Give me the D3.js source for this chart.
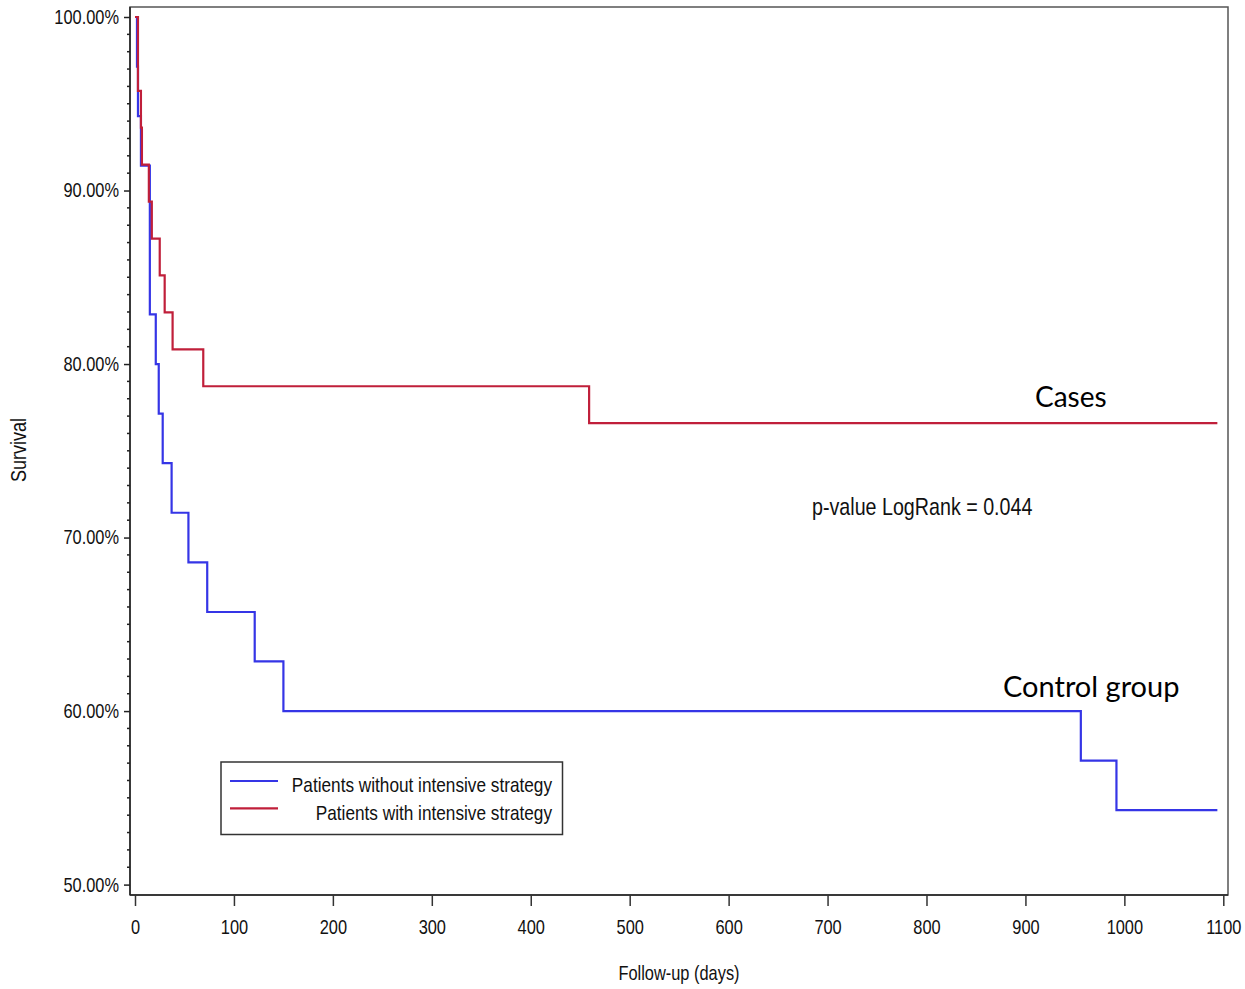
<!DOCTYPE html>
<html>
<head>
<meta charset="utf-8">
<script src="https://cdn.jsdelivr.net/npm/d3@7"></script>
<style>
  html, body { margin: 0; padding: 0; background: #fff; }
  svg { display: block; }
  .narrow { font-family: "Liberation Sans Narrow", "Arial Narrow", "Liberation Sans", Arial, sans-serif; }
</style>
</head>
<body>
<svg id="chart" width="1245" height="989"></svg>
<script>
// ---- data ----
const blueDays   = [0, 2, 3, 6, 15, 21, 24, 28, 37, 54, 73, 121, 150, 956, 992, 1094];
const blueSurv   = [100, 97.14, 94.29, 91.43, 82.86, 80.00, 77.14, 74.29, 71.43, 68.57, 65.71, 62.86, 60.00, 57.14, 54.29, 54.29];
const redDays    = [0, 3, 6, 7, 14, 17, 25, 30, 38, 69, 459, 1094];
const redSurv    = [100, 95.74, 93.62, 91.49, 89.36, 87.23, 85.11, 82.98, 80.85, 78.72, 76.60, 76.60];
const xTicks     = [0, 100, 200, 300, 400, 500, 600, 700, 800, 900, 1000, 1100];
const yTicks     = [50, 60, 70, 80, 90, 100];
const seriesNames = ["Patients without intensive strategy", "Patients with intensive strategy"];
const seriesColors = ["#3535e6", "#c01f3a"];
const groupLabels = ["Control group", "Cases"];
const pText = "p-value LogRank = 0.044";

const svg = d3.select("#chart");
const frame = {left: 130, right: 1228, top: 7, bottom: 895};
const x = d3.scaleLinear().domain([0, 1100]).range([135, 1223.3]);
const y = d3.scaleLinear().domain([50, 100]).range([884.6, 17]);
const SQUEEZE = 0.82; // emulate Arial Narrow with a horizontal scale

// frame
svg.append("rect")
  .attr("x", frame.left).attr("y", frame.top)
  .attr("width", frame.right - frame.left).attr("height", frame.bottom - frame.top)
  .attr("fill", "none").attr("stroke", "#555").attr("stroke-width", 1.5);

// y axis
const yAxis = d3.axisLeft(y).tickValues(yTicks).tickSize(6).tickPadding(5)
  .tickFormat(d => d3.format(".2f")(d) + "%");
const gy = svg.append("g").attr("transform", `translate(${frame.left},0)`).call(yAxis);
gy.select(".domain").attr("d", `M0,${frame.top}V${frame.bottom}`).attr("stroke", "#222").attr("stroke-width", 1.5);
gy.selectAll(".tick line").attr("stroke", "#222").attr("stroke-width", 1.5);
gy.selectAll(".tick text").attr("class", "narrow").attr("font-size", 20).attr("fill", "#111");
// minor y ticks
const minor = d3.range(50, 100.01, 1).filter(v => v % 10 !== 0);
svg.append("g").selectAll("line").data(minor).join("line")
  .attr("x1", frame.left - 3).attr("x2", frame.left)
  .attr("y1", d => y(d)).attr("y2", d => y(d))
  .attr("stroke", "#222").attr("stroke-width", 1.5);

// x axis
const xAxis = d3.axisBottom(x).tickValues(xTicks).tickSize(11).tickPadding(14).tickFormat(d3.format("d"));
const gx = svg.append("g").attr("transform", `translate(0,${frame.bottom})`).call(xAxis);
gx.select(".domain").attr("d", `M${frame.left},0H${frame.right}`).attr("stroke", "#222").attr("stroke-width", 1.5);
gx.selectAll(".tick line").attr("stroke", "#333").attr("stroke-width", 1.5);
gx.selectAll(".tick text").attr("class", "narrow").attr("font-size", 20).attr("fill", "#111");

// axis titles
svg.append("text").attr("class", "narrow")
  .attr("x", 679).attr("y", 980).attr("text-anchor", "middle")
  .attr("font-size", 20).attr("fill", "#111").text("Follow-up (days)");
svg.append("text").attr("class", "narrow rot")
  .attr("transform", "translate(26,450) rotate(-90)")
  .attr("text-anchor", "middle")
  .attr("font-size", 22).attr("fill", "#111").text("Survival");

// survival step lines
const line = d3.line().x(d => x(d[0])).y(d => y(d[1])).curve(d3.curveStepAfter);
const series = [
  d3.zip(blueDays, blueSurv),
  d3.zip(redDays, redSurv)
];
svg.append("g").selectAll("path").data(series).join("path")
  .attr("d", line)
  .attr("fill", "none")
  .attr("stroke", (d, i) => seriesColors[i])
  .attr("stroke-width", 2.2);

// annotations
svg.append("text").attr("x", 1035).attr("y", 407)
  .attr("font-family", "Lato, 'Open Sans', sans-serif").attr("font-size", 28).attr("fill", "#000")
  .text(groupLabels[1]);
svg.append("text").attr("x", 1003).attr("y", 697)
  .attr("font-family", "Lato, 'Open Sans', sans-serif").attr("font-size", 29).attr("fill", "#000")
  .text(groupLabels[0]);
svg.append("text").attr("class", "narrow").attr("x", 812).attr("y", 515)
  .attr("font-size", 24).attr("fill", "#111").text(pText);

// legend
const lg = svg.append("g");
lg.append("rect").attr("x", 221).attr("y", 762).attr("width", 341.5).attr("height", 72.5)
  .attr("fill", "#fff").attr("stroke", "#333").attr("stroke-width", 1.5);
const legY = [781, 808.3];
seriesNames.forEach((name, i) => {
  lg.append("line").attr("x1", 230).attr("x2", 278).attr("y1", legY[i]).attr("y2", legY[i])
    .attr("stroke", seriesColors[i]).attr("stroke-width", 2.2);
  lg.append("text").attr("class", "narrow").attr("x", 552).attr("y", legY[i] + 11.5)
    .attr("text-anchor", "end").attr("font-size", 21).attr("fill", "#111").text(name);
});

// condense the SAS-style text (emulating Arial Narrow): scale horizontally about the anchor point
svg.selectAll("text.narrow").each(function() {
  const t = d3.select(this);
  if (t.classed("rot")) {
    const w = this.getComputedTextLength();
    t.attr("textLength", w * SQUEEZE).attr("lengthAdjust", "spacingAndGlyphs");
    return;
  }
  const ax = +(t.attr("x") || 0);
  t.attr("transform", `translate(${ax},0) scale(${SQUEEZE},1) translate(${-ax},0)`);
});
</script>
</body>
</html>
